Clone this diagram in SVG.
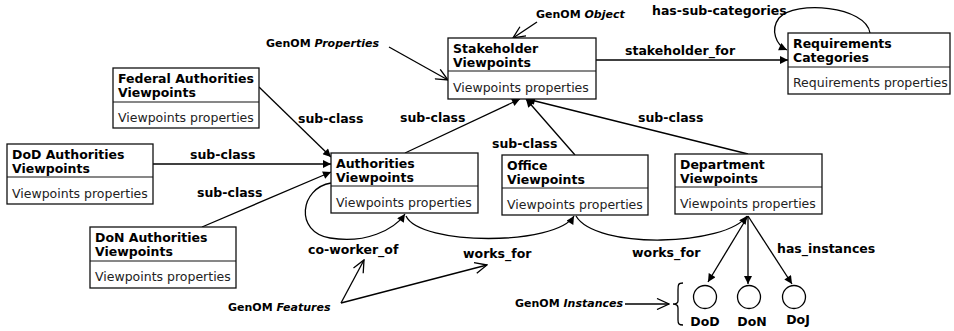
<svg xmlns="http://www.w3.org/2000/svg" width="954" height="331" viewBox="0 0 954 331">
<style>
.box{fill:#fff;stroke:#111;stroke-width:1.3}
.div{stroke:#111;stroke-width:1.2}
.t{font-family:"DejaVu Sans",Verdana,sans-serif;font-weight:bold;font-size:12.5px;fill:#000}
.p{font-family:"DejaVu Sans",Verdana,sans-serif;font-size:12.5px;fill:#222}
.l{font-family:"DejaVu Sans",Verdana,sans-serif;font-weight:bold;font-size:12.5px;fill:#000}
.g{font-family:"DejaVu Sans",Verdana,sans-serif;font-weight:bold;font-size:11px;fill:#000}
.c{fill:none;stroke:#000;stroke-width:1.3}
.fa{marker-end:url(#arr)}
.oa{marker-end:url(#open)}
</style>
<defs>
<marker id="arr" viewBox="0 0 10 10" refX="10" refY="5" markerWidth="10" markerHeight="8" orient="auto" markerUnits="userSpaceOnUse">
<path d="M0,0 L10,5 L0,10 z" fill="#000"/>
</marker>
<marker id="open" viewBox="0 0 14 12" refX="13" refY="6" markerWidth="14" markerHeight="12" orient="auto" markerUnits="userSpaceOnUse">
<path d="M1,0.5 L13,6 L1,11.5" fill="none" stroke="#000" stroke-width="1.3"/>
</marker>
</defs>

<g id="connectors">
<path class="c fa" d="M596,60 L788,60"/>
<path class="c fa" d="M870,33 C866,6 795,0 779,18 C770,30 776,45 787,50"/>
<path class="c fa" d="M405,153 L520,99"/>
<path class="c fa" d="M575,155 L526,99"/>
<path class="c fa" d="M748,154 L527,99"/>
<path class="c fa" d="M259,87 L331,157"/>
<path class="c fa" d="M153,164 L331,164"/>
<path class="c fa" d="M202,227 L331,172"/>
<path class="c fa" d="M331,183 C300,188 294,232 330,238 C365,244 394,230 405,214"/>
<path class="c fa" d="M406,216 C420,246 556,246 574,216"/>
<path class="c fa" d="M576,216 C596,250 726,246 747,216"/>
<path class="c fa" d="M748,216 L708,282"/>
<path class="c fa" d="M748,216 L748,284"/>
<path class="c fa" d="M748,216 L792,284"/>
<path class="c oa" d="M537,22 L513,38"/>
<path class="c oa" d="M389,47 L448,80"/>
<path class="c oa" d="M341,303 L364,260"/>
<path class="c oa" d="M341,303 L487,265"/>
<path class="c oa" d="M625,304 L669,304"/>
<path class="c" d="M683,283 C678,283 678,285 678,290 L678,301 C678,303 676,304 673,304 C676,304 678,305 678,308 L678,320 C678,324 679,325 683,325"/>
</g>

<g id="stakeholder">
<rect class="box" x="448" y="38" width="148" height="61"/>
<line class="div" x1="448" y1="71" x2="596" y2="71"/>
<text class="t" x="453" y="53">Stakeholder</text>
<text class="t" x="453" y="67">Viewpoints</text>
<text class="p" x="453" y="92">Viewpoints properties</text>
</g>

<g id="requirements">
<rect class="box" x="788" y="33" width="162" height="61"/>
<line class="div" x1="788" y1="67" x2="950" y2="67"/>
<text class="t" x="793" y="48">Requirements</text>
<text class="t" x="793" y="62">Categories</text>
<text class="p" x="793" y="87">Requirements properties</text>
</g>

<g id="federal">
<rect class="box" x="113" y="68" width="146" height="60"/>
<line class="div" x1="113" y1="102" x2="259" y2="102"/>
<text class="t" x="118" y="83">Federal Authorities</text>
<text class="t" x="118" y="97">Viewpoints</text>
<text class="p" x="118" y="122">Viewpoints properties</text>
</g>

<g id="dod-authorities">
<rect class="box" x="7" y="144" width="146" height="60"/>
<line class="div" x1="7" y1="177" x2="153" y2="177"/>
<text class="t" x="12" y="159">DoD Authorities</text>
<text class="t" x="12" y="173">Viewpoints</text>
<text class="p" x="12" y="198">Viewpoints properties</text>
</g>

<g id="authorities">
<rect class="box" x="331" y="153" width="147" height="60"/>
<line class="div" x1="331" y1="186" x2="478" y2="186"/>
<text class="t" x="336" y="168">Authorities</text>
<text class="t" x="336" y="182">Viewpoints</text>
<text class="p" x="336" y="207">Viewpoints properties</text>
</g>

<g id="office">
<rect class="box" x="502" y="155" width="146" height="60"/>
<line class="div" x1="502" y1="188" x2="648" y2="188"/>
<text class="t" x="507" y="170">Office</text>
<text class="t" x="507" y="184">Viewpoints</text>
<text class="p" x="507" y="209">Viewpoints properties</text>
</g>

<g id="department">
<rect class="box" x="675" y="154" width="147" height="60"/>
<line class="div" x1="675" y1="187" x2="822" y2="187"/>
<text class="t" x="680" y="169">Department</text>
<text class="t" x="680" y="183">Viewpoints</text>
<text class="p" x="680" y="208">Viewpoints properties</text>
</g>

<g id="don-authorities">
<rect class="box" x="90" y="227" width="146" height="61"/>
<line class="div" x1="90" y1="261" x2="236" y2="261"/>
<text class="t" x="95" y="242">DoN Authorities</text>
<text class="t" x="95" y="256">Viewpoints</text>
<text class="p" x="95" y="281">Viewpoints properties</text>
</g>

<g id="inst-dod">
<circle class="c" cx="705" cy="297" r="11.5"/>
<text class="t" x="705" y="326" text-anchor="middle">DoD</text>
</g>
<g id="inst-don">
<circle class="c" cx="749" cy="297" r="11.5"/>
<text class="t" x="752" y="326" text-anchor="middle">DoN</text>
</g>
<g id="inst-doj">
<circle class="c" cx="794" cy="297" r="11.5"/>
<text class="t" x="798" y="324" text-anchor="middle">DoJ</text>
</g>

<g id="labels">
<text class="l" x="625" y="55">stakeholder_for</text>
<text class="l" x="652" y="15">has-sub-categories</text>
<text class="l" x="400" y="122">sub-class</text>
<text class="l" x="492" y="148">sub-class</text>
<text class="l" x="638" y="122">sub-class</text>
<text class="l" x="298" y="123">sub-class</text>
<text class="l" x="190" y="159">sub-class</text>
<text class="l" x="197" y="197">sub-class</text>
<text class="l" x="308" y="254">co-worker_of</text>
<text class="l" x="463" y="258">works_for</text>
<text class="l" x="632" y="257">works_for</text>
<text class="l" x="777" y="253">has_instances</text>
<text class="g" x="536" y="18">GenOM <tspan font-style="italic">Object</tspan></text>
<text class="g" x="266" y="47">GenOM <tspan font-style="italic">Properties</tspan></text>
<text class="g" x="228" y="311">GenOM <tspan font-style="italic">Features</tspan></text>
<text class="g" x="623" y="307" text-anchor="end">GenOM <tspan font-style="italic">Instances</tspan></text>
</g>
</svg>
